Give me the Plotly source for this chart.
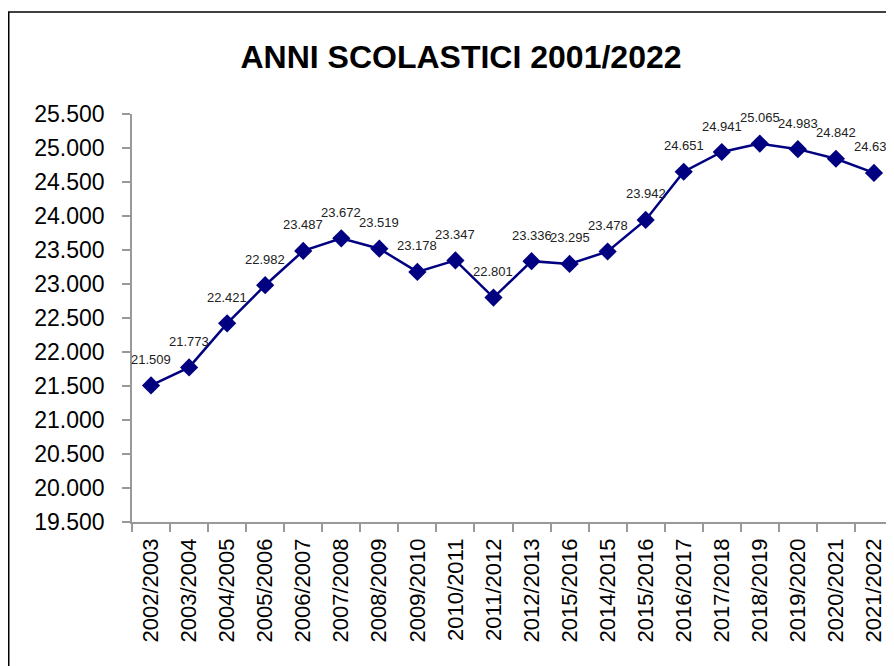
import plotly.graph_objects as go

categories = ["2002/2003", "2003/2004", "2004/2005", "2005/2006", "2006/2007",
              "2007/2008", "2008/2009", "2009/2010", "2010/2011", "2011/2012",
              "2012/2013", "2015/2016", "2014/2015", "2015/2016", "2016/2017",
              "2017/2018", "2018/2019", "2019/2020", "2020/2021", "2021/2022"]
values = [21509, 21773, 22421, 22982, 23487, 23672, 23519, 23178, 23347, 22801,
          23336, 23295, 23478, 23942, 24651, 24941, 25065, 24983, 24842, 24634]
y_ticks = [19500, 20000, 20500, 21000, 21500, 22000, 22500, 23000, 23500,
           24000, 24500, 25000, 25500]
title_text = "ANNI SCOLASTICI 2001/2022"

positions = list(range(len(categories)))
labels = [f"{v:,}".replace(",", ".") for v in values]

fig = go.Figure()
fig.add_trace(go.Scatter(
    x=positions, y=values, mode="lines+markers",
    line=dict(color="#000080", width=2.5),
    marker=dict(symbol="diamond", size=14, color="#000080"),
    cliponaxis=False, hoverinfo="skip", showlegend=False,
))

annotations = [
    dict(x=p, y=v, text=t, showarrow=False, xref="x", yref="y",
         yshift=26, xanchor="center", yanchor="middle",
         font=dict(family="Liberation Sans, Arial", size=13, color="#222222"))
    for p, v, t in zip(positions, values, labels)
]

# page body has an 8px margin, so the figure is offset by 8px
W, H = 886, 658
L, R, T, B = 124, 1, 106, 144
pw, ph = W - L - R, H - T - B

fig.update_layout(
    width=W, height=H,
    margin=dict(l=L, r=R, t=T, b=B, autoexpand=False),
    paper_bgcolor="white", plot_bgcolor="white",
    separators=",.",
    font=dict(family="Liberation Sans, Arial", color="black"),
    title=dict(text=title_text, x=453 / W, xanchor="center",
               y=1 - 49 / H, yanchor="middle",
               font=dict(family="Liberation Sans, Arial", size=32, color="black", weight="bold")),
    xaxis=dict(
        range=[-0.5, len(categories) - 0.5],
        tickmode="array", tickvals=positions, ticktext=categories,
        tickangle=-90, ticks="", showgrid=False, zeroline=False,
        showline=True, linecolor="#999999", linewidth=1.5,
        tickfont=dict(size=22, color="black"),
        ticklabelstandoff=6,
        minor=dict(tickmode="linear", tick0=-0.5, dtick=1, ticks="outside",
                   ticklen=8, tickcolor="#999999", tickwidth=1.5, showgrid=False),
    ),
    yaxis=dict(
        range=[y_ticks[0], y_ticks[-1]],
        tickmode="array", tickvals=y_ticks, tickformat=",d",
        ticks="outside", ticklen=8, tickcolor="#999999", tickwidth=1.5,
        showgrid=False, zeroline=False,
        showline=True, linecolor="#999999", linewidth=1.5,
        tickfont=dict(size=23, color="black"),
        ticklabelstandoff=13,
    ),
    annotations=annotations,
    shapes=[
        dict(type="line", xref="paper", yref="paper",
             x0=(0.75 - L) / pw, x1=(0.75 - L) / pw, y0=(T + ph - H) / ph, y1=(T + ph - 4) / ph,
             line=dict(color="black", width=1.5)),
        dict(type="line", xref="paper", yref="paper",
             x0=(0 - L) / pw, x1=(W - L) / pw, y0=(T + ph - 4) / ph, y1=(T + ph - 4) / ph,
             line=dict(color="black", width=1.5)),
    ],
)

fig.write_html("out.html")
